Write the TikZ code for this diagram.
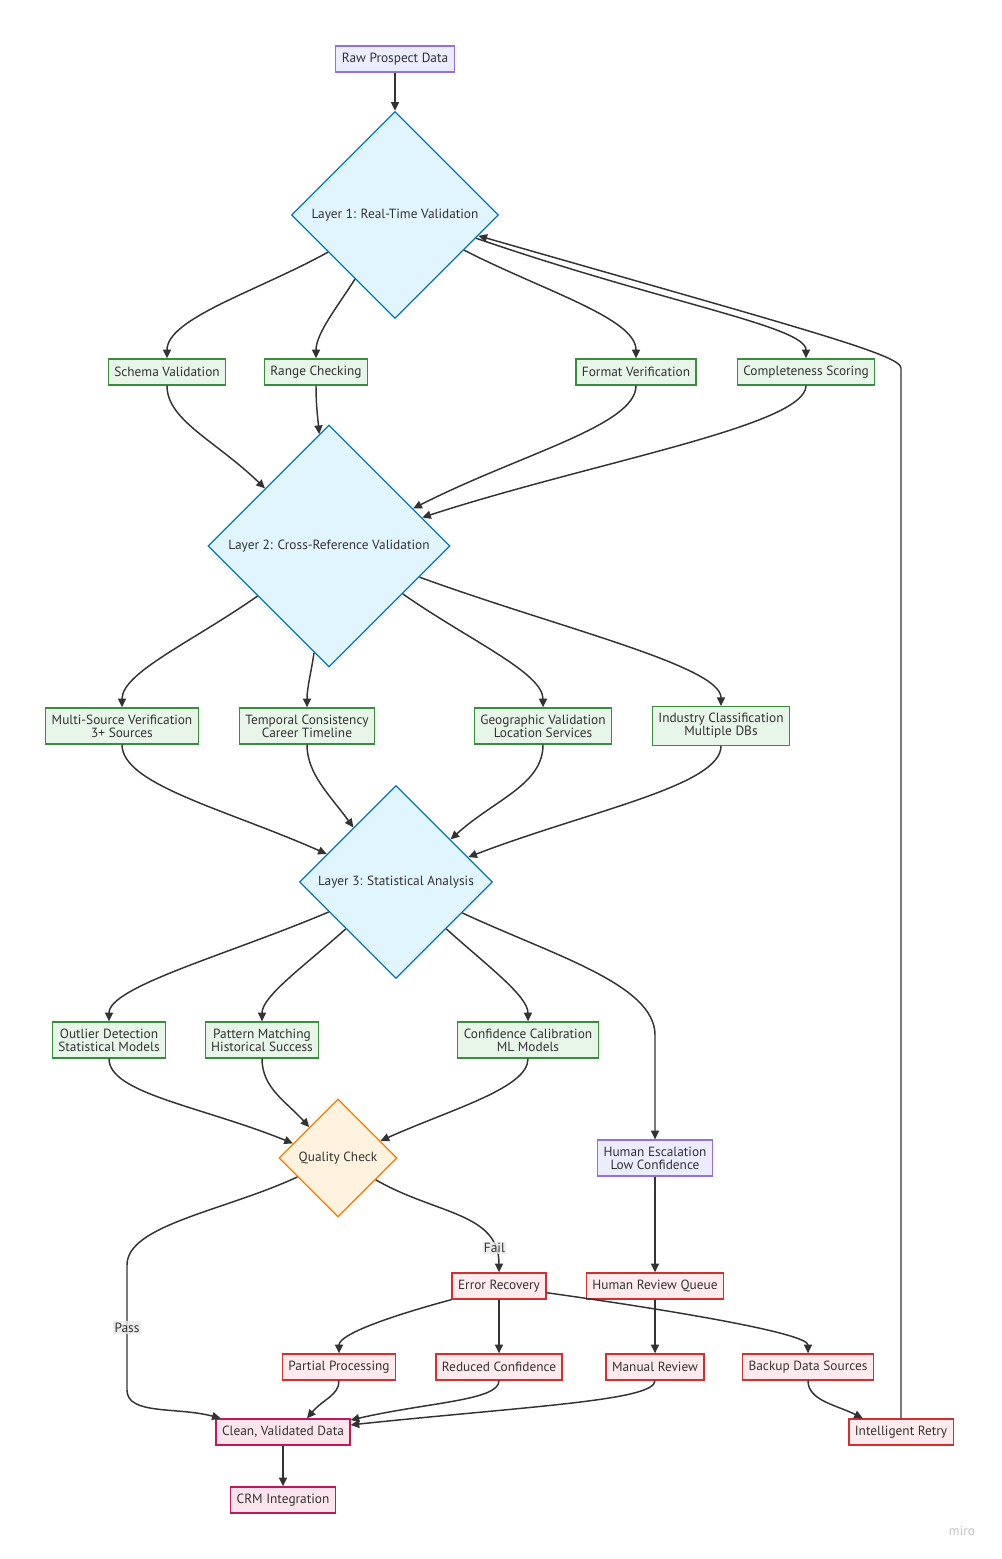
\documentclass[tikz,border=0pt]{standalone}
\usepackage{fontspec}
\setmainfont{PT Sans}
\usetikzlibrary{arrows.meta,shapes.geometric}

\definecolor{ink}{HTML}{333333}
\definecolor{entryfill}{HTML}{ECECFF}
\definecolor{entryline}{HTML}{9370DB}
\definecolor{layerfill}{HTML}{E1F5FE}
\definecolor{layerline}{HTML}{0277BD}
\definecolor{checkfill}{HTML}{E8F5E9}
\definecolor{checkline}{HTML}{388E3C}
\definecolor{gatefill}{HTML}{FFF3E0}
\definecolor{gateline}{HTML}{F57C00}
\definecolor{faultfill}{HTML}{FFEBEE}
\definecolor{faultline}{HTML}{D32F2F}
\definecolor{donefill}{HTML}{FCE4EC}
\definecolor{doneline}{HTML}{C2185B}
\definecolor{lblfill}{HTML}{E8E8E8}
\definecolor{mirogray}{HTML}{C4C4C4}

\begin{document}
\begin{tikzpicture}[
  x=0.75pt, y=-0.75pt,
  font=\fontsize{10}{9.75}\selectfont, text=ink,
  box/.style={draw, line width=1pt, align=center, inner xsep=4.5pt,
              inner ysep=5pt, minimum height=19.5pt},
  entry/.style={box, fill=entryfill, draw=entryline},
  check/.style={box, fill=checkfill, draw=checkline},
  fault/.style={box, fill=faultfill, draw=faultline},
  done/.style={box, fill=donefill, draw=doneline},
  layer/.style={diamond, aspect=1, inner sep=0pt, line width=1pt,
                fill=layerfill, draw=layerline},
  gate/.style={layer, fill=gatefill, draw=gateline},
  arr/.style={-{Triangle[length=6.5pt,width=6pt]}, draw=ink, line width=1.1pt},
  lbl/.style={fill=lblfill, fill opacity=0.8, text opacity=1, inner sep=1pt}
]
\fill[white] (0,0) rectangle (1001,1559);
\useasboundingbox (0,0) rectangle (1001,1559);

% layers and checks
\node[entry] (raw) at (395,59) {Raw Prospect Data};
\node[layer, minimum size=155.25pt] (lone) at (395,215) {Layer 1: Real-Time Validation};
\node[check] (schema) at (167,372) {Schema Validation};
\node[check] (range) at (316,372) {Range Checking};
\node[check] (format) at (636,372) {Format Verification};
\node[check] (complete) at (806,372) {Completeness Scoring};
\node[layer, minimum size=181.5pt] (ltwo) at (329,546) {Layer 2: Cross-Reference Validation};
\node[check] (multi) at (122,726) {Multi-Source Verification\\3+ Sources};
\node[check] (temporal) at (307,726) {Temporal Consistency\\Career Timeline};
\node[check] (geo) at (543,726) {Geographic Validation\\Location Services};
\node[check] (industry) at (721,726) {Industry Classification\\Multiple DBs};
\node[layer, minimum size=144.75pt] (lthree) at (396,882) {Layer 3: Statistical Analysis};
\node[check] (outlier) at (109,1040) {Outlier Detection\\Statistical Models};
\node[check] (pattern) at (262,1040) {Pattern Matching\\Historical Success};
\node[check] (calib) at (528,1040) {Confidence Calibration\\ML Models};

% quality gate and recovery
\node[gate, minimum size=88.5pt] (qc) at (338,1158) {Quality Check};
\node[entry] (escal) at (655,1158) {Human Escalation\\Low Confidence};
\node[fault] (error) at (499,1286) {Error Recovery};
\node[fault] (hrq) at (655,1286) {Human Review Queue};
\node[fault] (partial) at (339,1367) {Partial Processing};
\node[fault] (reduced) at (499,1367) {Reduced Confidence};
\node[fault] (manual) at (655,1367) {Manual Review};
\node[fault] (backup) at (808,1367) {Backup Data Sources};
\node[done] (clean) at (283,1432) {Clean, Validated Data};
\node[fault] (retry) at (901,1432) {Intelligent Retry};
\node[done] (crm) at (283,1500) {CRM Integration};
\node[text=mirogray, font=\fontsize{10}{12}\selectfont] (miro) at (962,1531) {miro};

\coordinate (retrybend) at (901,368);
\coordinate (escbend) at (655,1035);
\coordinate (passtop) at (127,1265);
\coordinate (passbot) at (127,1390);

\draw[arr] (raw) -- (lone);
\draw[arr] (lone.209) to[out=209, in=90, out distance=60pt, in distance=30pt] (schema.north);
\draw[arr] (lone.238) to[out=238, in=90, out distance=22pt, in distance=19pt] (range.north);
\draw[arr] (lone.333) to[out=333, in=90, out distance=68pt, in distance=30pt] (format.north);
\draw[arr] (lone.344) to[out=341, in=90, out distance=150pt, in distance=24pt] (complete.north);

\draw[arr] (schema.south) to[out=270, in=136, out distance=26pt, in distance=52pt] (ltwo.138);
\draw[arr] (range.south) to[out=270, in=95, out distance=15pt, in distance=11pt] (ltwo.95);
\draw[arr] (format.south) to[out=270, in=27, out distance=30pt, in distance=90pt] (ltwo.24);
\draw[arr] (complete.south) to[out=270, in=18, out distance=30pt, in distance=135pt] (ltwo.17);

\draw[arr] (ltwo.215) to[out=215, in=90, out distance=60pt, in distance=26pt] (multi.north);
\draw[arr] (ltwo.262) to[out=262, in=90, out distance=15pt, in distance=15pt] (temporal.north);
\draw[arr] (ltwo.327) to[out=325, in=90, out distance=60pt, in distance=26pt] (geo.north);
\draw[arr] (ltwo.341) to[out=340, in=90, out distance=112pt, in distance=30pt] (industry.north);

\draw[arr] (multi.south) to[out=270, in=156, out distance=30pt, in distance=82pt] (lthree.158);
\draw[arr] (temporal.south) to[out=270, in=126, out distance=22pt, in distance=30pt] (lthree.128);
\draw[arr] (geo.south) to[out=270, in=42, out distance=30pt, in distance=45pt] (lthree.38);
\draw[arr] (industry.south) to[out=270, in=21, out distance=30pt, in distance=97pt] (lthree.19);

\draw[arr] (lthree.204) to[out=203, in=90, out distance=82pt, in distance=26pt] (outlier.north);
\draw[arr] (lthree.223) to[out=222, in=90, out distance=41pt, in distance=19pt] (pattern.north);
\draw[arr] (lthree.317) to[out=318, in=90, out distance=41pt, in distance=19pt] (calib.north);
\draw[arr] (lthree.335) to[out=335, in=90, out distance=75pt, in distance=38pt] (escbend) -- (escal.north);

\draw[arr] (outlier.south) to[out=270, in=158, out distance=26pt, in distance=75pt] (qc.162);
\draw[arr] (pattern.south) to[out=270, in=132, out distance=22pt, in distance=26pt] (qc.133);
\draw[arr] (calib.south) to[out=270, in=24, out distance=22pt, in distance=60pt] (qc.22);

\draw[arr] (qc.205) to[out=205, in=90, out distance=60pt, in distance=30pt] (passtop)
  -- node[lbl] {Pass} (passbot)
  to[out=270, in=165, out distance=19pt, in distance=34pt] ([xshift=4pt]clean.north west);
\draw[arr] (qc.330) to[out=330, in=90, out distance=52pt, in distance=45pt]
  node[lbl, pos=0.84] {Fail} (error.north);
\draw[arr] (escal) -- (hrq);

\draw[arr] (error.south west) to[out=195, in=90, out distance=41pt, in distance=15pt] (partial.north);
\draw[arr] (error) -- (reduced);
\draw[arr] (error.-8) to[out=-8, in=90, out distance=97pt, in distance=15pt] (backup.north);
\draw[arr] (hrq) -- (manual);

\draw[arr] (partial.south) to[out=270, in=50, out distance=11pt, in distance=19pt] ([xshift=18pt]clean.north);
\draw[arr] (reduced.south) to[out=270, in=13, out distance=15pt, in distance=60pt] (clean.10);
\draw[arr] (manual.south) to[out=270, in=6, out distance=15pt, in distance=135pt] (clean.6);
\draw[arr] (backup.south) to[out=270, in=153, out distance=15pt, in distance=22pt] ([xshift=11pt]retry.north west);
\draw[arr] (retry.north) -- (retrybend)
  to[out=90, in=344, out distance=10pt, in distance=250pt] (lone.346);
\draw[arr] (clean) -- (crm);
\end{tikzpicture}
\end{document}
